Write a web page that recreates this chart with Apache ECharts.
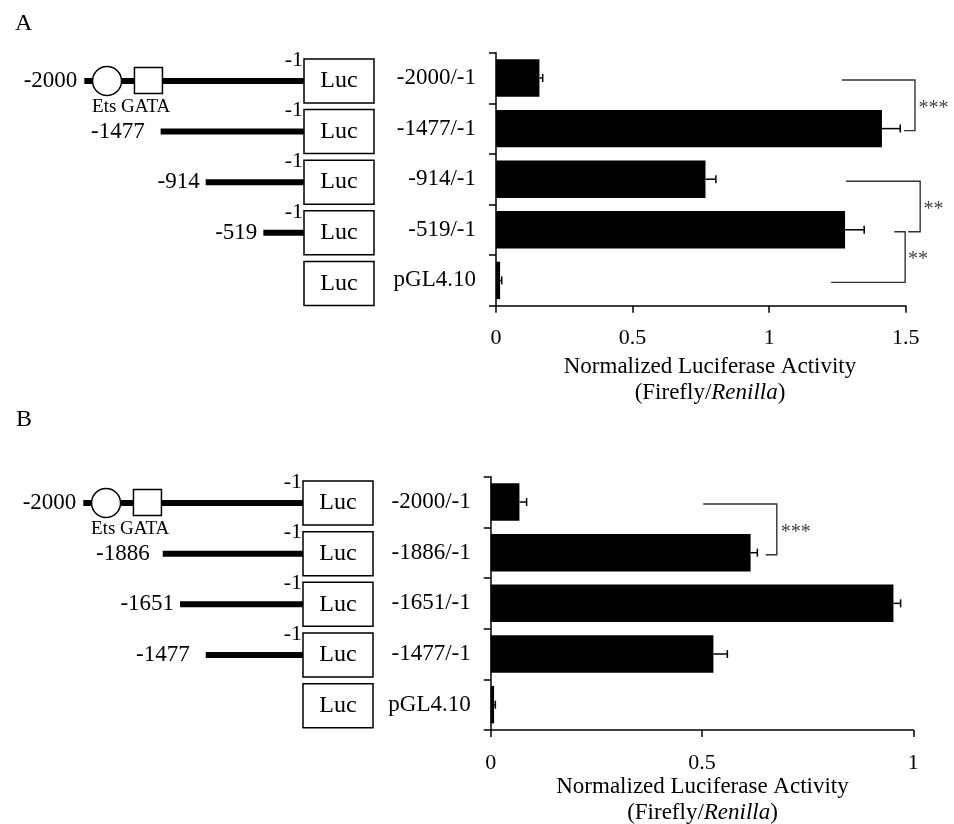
<!DOCTYPE html>
<html>
<head>
<meta charset="UTF-8">
<title>Luciferase reporter assay</title>
<script src="https://cdn.jsdelivr.net/npm/echarts/dist/echarts.min.js"></script>
<style>
  html, body { margin: 0; padding: 0; background: #fff; }
  #chart { width: 954px; height: 824px; }
</style>
</head>
<body>
<div id="chart"></div>
<script>
// ---- panel A data ----
var rowsA = ['-2000/-1', '-1477/-1', '-914/-1', '-519/-1', 'pGL4.10'];
var valuesA = [0.159, 1.413, 0.767, 1.278, 0.015];
var errorsA = [0.012, 0.067, 0.038, 0.070, 0.006];
// construct start on the (not to scale) schematic axis, -2000..0
var startA = [-2000, -1305, -895, -370];
var startLabelsA = ['-2000', '-1477', '-914', '-519'];

// ---- panel B data ----
var rowsB = ['-2000/-1', '-1886/-1', '-1651/-1', '-1477/-1', 'pGL4.10'];
var valuesB = [0.068, 0.615, 0.953, 0.527, 0.008];
var errorsB = [0.017, 0.016, 0.017, 0.033, 0.003];
var startB = [-2000, -1277, -1119, -885];
var startLabelsB = ['-2000', '-1886', '-1651', '-1477'];

// Ets / GATA sites on the schematic axis
var etsPos = -1793;
var gataPos = -1416;

// significance brackets (rows, x on the activity axis)
var brTopRowA = [0, 2, 3];
var brBottomRowA = [1, 3, 4];
var brTopXA = [1.266, 1.282, 1.458];
var brRightXA = [1.534, 1.553, 1.498];
var brBottomXA = [1.494, 1.509, 1.227];
var starsA = ['***', '**', '**'];
var starXA = [1.602, 1.602, 1.545];

var brTopRowB = [0];
var brBottomRowB = [1];
var brTopXB = [0.503];
var brRightXB = [0.677];
var brBottomXB = [0.651];
var starsB = ['***'];
var starXB = [0.722];

var FONT = '"Liberation Serif", "DejaVu Serif", serif';
var labelGapA = [7, 16, 6, 6];
var labelGapB = [7, 13, 6, 16];

var chart = echarts.init(document.getElementById('chart'));

function barGrid(left, top, width, height) {
    return { left: left, top: top, width: width, height: height, containLabel: false, outerBoundsMode: 'none' };
}

function activityAxis(gridIndex, max) {
    return {
        type: 'value', gridIndex: gridIndex, min: 0, max: max, interval: 0.5,
        splitLine: { show: false },
        axisLine: { show: true, lineStyle: { color: '#000', width: 1.5 } },
        axisTick: { show: true, length: 7, lineStyle: { color: '#000', width: 1.5 } },
        axisLabel: { color: '#000', fontFamily: FONT, fontSize: 22, margin: 22 }
    };
}

function rowAxis(gridIndex, rows, show) {
    return {
        type: 'category', gridIndex: gridIndex, data: rows, inverse: true, show: show,
        axisLine: { show: true, lineStyle: { color: '#000', width: 1.5 } },
        axisTick: { show: true, length: 7, lineStyle: { color: '#000', width: 1.5 } },
        axisLabel: { color: '#000', fontFamily: FONT, fontSize: 23, margin: 20 }
    };
}

function schematicAxis(gridIndex) {
    return { type: 'value', gridIndex: gridIndex, min: -2000, max: 0, show: false };
}

function errorSeries(idx, values, errors) {
    return {
        type: 'custom', xAxisIndex: idx, yAxisIndex: idx, z: 3,
        data: values.map(function (v, i) { return [v, i]; }),
        renderItem: function (params, api) {
            var i = params.dataIndex;
            var p0 = api.coord([values[i], i]);
            var p1 = api.coord([values[i] + errors[i], i]);
            var st = { stroke: '#000', lineWidth: 1.5 };
            return {
                type: 'group', children: [
                    { type: 'line', shape: { x1: p0[0], y1: p0[1], x2: p1[0], y2: p1[1] }, style: st },
                    { type: 'line', shape: { x1: p1[0], y1: p1[1] - 4, x2: p1[0], y2: p1[1] + 4 }, style: st }
                ]
            };
        }
    };
}

function bracketSeries(idx, topRow, bottomRow, topX, rightX, bottomX, stars, starX) {
    return {
        type: 'custom', xAxisIndex: idx, yAxisIndex: idx, clip: false, z: 4,
        data: topRow.map(function (r, i) { return [topX[i], r]; }),
        renderItem: function (params, api) {
            var i = params.dataIndex;
            var a = api.coord([topX[i], topRow[i]]);
            var b = api.coord([rightX[i], topRow[i]]);
            var c = api.coord([rightX[i], bottomRow[i]]);
            var d = api.coord([bottomX[i], bottomRow[i]]);
            var s = api.coord([starX[i], topRow[i]]);
            var s2 = api.coord([starX[i], bottomRow[i]]);
            return {
                type: 'group', children: [
                    {
                        type: 'polyline',
                        shape: { points: [[a[0], a[1] + 2], [b[0], b[1] + 2], [c[0], c[1] + 2], [d[0], d[1] + 2]] },
                        style: { stroke: '#333', lineWidth: 1.4, fill: null }
                    },
                    {
                        type: 'text',
                        style: {
                            text: stars[i], x: s[0], y: (s[1] + s2[1]) / 2 + 5,
                            align: 'center', verticalAlign: 'middle',
                            font: '20px ' + FONT, fill: '#444'
                        }
                    }
                ]
            };
        }
    };
}

function lineSeries(idx, starts, labels, gaps) {
    return {
        type: 'custom', xAxisIndex: idx, yAxisIndex: idx, clip: false, z: 2,
        data: starts.map(function (s, i) { return [s, i]; }),
        renderItem: function (params, api) {
            var i = params.dataIndex;
            var p0 = api.coord([starts[i], i]);
            var p1 = api.coord([0, i]);
            return {
                type: 'group', children: [
                    { type: 'line', shape: { x1: p0[0], y1: p0[1], x2: p1[0], y2: p1[1] }, style: { stroke: '#000', lineWidth: 6 } },
                    {
                        type: 'text',
                        style: {
                            text: labels[i], x: p0[0] - gaps[i], y: p0[1],
                            align: 'right', verticalAlign: 'middle',
                            font: '23px ' + FONT, fill: '#000'
                        }
                    }
                ]
            };
        }
    };
}

function boxSeries(idx, rows, nLines) {
    return {
        type: 'custom', xAxisIndex: idx, yAxisIndex: idx, clip: false, z: 3,
        data: rows.map(function (r, i) { return [0, i]; }),
        renderItem: function (params, api) {
            var i = params.dataIndex;
            var p = api.coord([0, i]);
            var top = p[1] - 22;
            var kids = [
                { type: 'rect', shape: { x: p[0], y: top, width: 70, height: 44 }, style: { fill: '#fff', stroke: '#000', lineWidth: 1.5 } },
                {
                    type: 'text',
                    style: { text: 'Luc', x: p[0] + 35, y: p[1], align: 'center', verticalAlign: 'middle', font: '24px ' + FONT, fill: '#000' }
                }
            ];
            if (i < nLines) {
                kids.push({
                    type: 'text',
                    style: { text: '-1', x: p[0] - 1, y: top + 1, align: 'right', verticalAlign: 'middle', font: '22px ' + FONT, fill: '#000' }
                });
            }
            return { type: 'group', children: kids };
        }
    };
}

function siteSeries(idx) {
    return {
        type: 'custom', xAxisIndex: idx, yAxisIndex: idx, clip: false, z: 4,
        data: [[etsPos, 0]],
        renderItem: function (params, api) {
            var e = api.coord([etsPos, 0]);
            var g = api.coord([gataPos, 0]);
            return {
                type: 'group', children: [
                    { type: 'circle', shape: { cx: e[0], cy: e[1], r: 14.5 }, style: { fill: '#fff', stroke: '#000', lineWidth: 1.5 } },
                    { type: 'rect', shape: { x: g[0] - 14, y: g[1] - 13.5, width: 28, height: 26 }, style: { fill: '#fff', stroke: '#000', lineWidth: 1.5 } },
                    {
                        type: 'text',
                        style: { text: 'Ets GATA', x: e[0] - 15, y: e[1] + 26, align: 'left', verticalAlign: 'middle', font: '19px ' + FONT, fill: '#000' }
                    }
                ]
            };
        }
    };
}

var option = {
    backgroundColor: '#fff',
    animation: false,
    grid: [
        barGrid(84.3, 55.7, 219.7, 253),     // A schematic
        barGrid(496, 52.7, 409.7, 253),      // A bars
        barGrid(83.3, 477.7, 219.7, 253.3),  // B schematic
        barGrid(490.7, 476.7, 422.6, 253.3)  // B bars
    ],
    xAxis: [
        schematicAxis(0),
        activityAxis(1, 1.5),
        schematicAxis(2),
        activityAxis(3, 1)
    ],
    yAxis: [
        rowAxis(0, rowsA, false),
        rowAxis(1, rowsA, true),
        rowAxis(2, rowsB, false),
        rowAxis(3, rowsB, true)
    ],
    graphic: [
        { type: 'text', left: 15, top: 12, style: { text: 'A', font: '24px ' + FONT, fill: '#000' } },
        { type: 'text', left: 16, top: 408, style: { text: 'B', font: '24px ' + FONT, fill: '#000' } },
        { type: 'text', x: 710, y: 367, style: { text: 'Normalized Luciferase Activity', align: 'center', verticalAlign: 'middle', font: '23px ' + FONT, fill: '#000' } },
        {
            type: 'text', x: 710, y: 393,
            style: {
                text: '(Firefly/{i|Renilla})', align: 'center', verticalAlign: 'middle', font: '23px ' + FONT, fill: '#000',
                rich: { i: { fontStyle: 'italic', fontFamily: FONT, fontSize: 23 } }
            }
        },
        { type: 'text', x: 702.5, y: 787, style: { text: 'Normalized Luciferase Activity', align: 'center', verticalAlign: 'middle', font: '23px ' + FONT, fill: '#000' } },
        {
            type: 'text', x: 702.5, y: 813,
            style: {
                text: '(Firefly/{i|Renilla})', align: 'center', verticalAlign: 'middle', font: '23px ' + FONT, fill: '#000',
                rich: { i: { fontStyle: 'italic', fontFamily: FONT, fontSize: 23 } }
            }
        }
    ],
    series: [
        lineSeries(0, startA, startLabelsA, labelGapA),
        boxSeries(0, rowsA, startA.length),
        siteSeries(0),
        {
            type: 'bar', xAxisIndex: 1, yAxisIndex: 1, data: valuesA,
            barCategoryGap: '26%', itemStyle: { color: '#000' }
        },
        errorSeries(1, valuesA, errorsA),
        bracketSeries(1, brTopRowA, brBottomRowA, brTopXA, brRightXA, brBottomXA, starsA, starXA),

        lineSeries(2, startB, startLabelsB, labelGapB),
        boxSeries(2, rowsB, startB.length),
        siteSeries(2),
        {
            type: 'bar', xAxisIndex: 3, yAxisIndex: 3, data: valuesB,
            barCategoryGap: '26%', itemStyle: { color: '#000' }
        },
        errorSeries(3, valuesB, errorsB),
        bracketSeries(3, brTopRowB, brBottomRowB, brTopXB, brRightXB, brBottomXB, starsB, starXB)
    ]
};

chart.setOption(option);
</script>
</body>
</html>
